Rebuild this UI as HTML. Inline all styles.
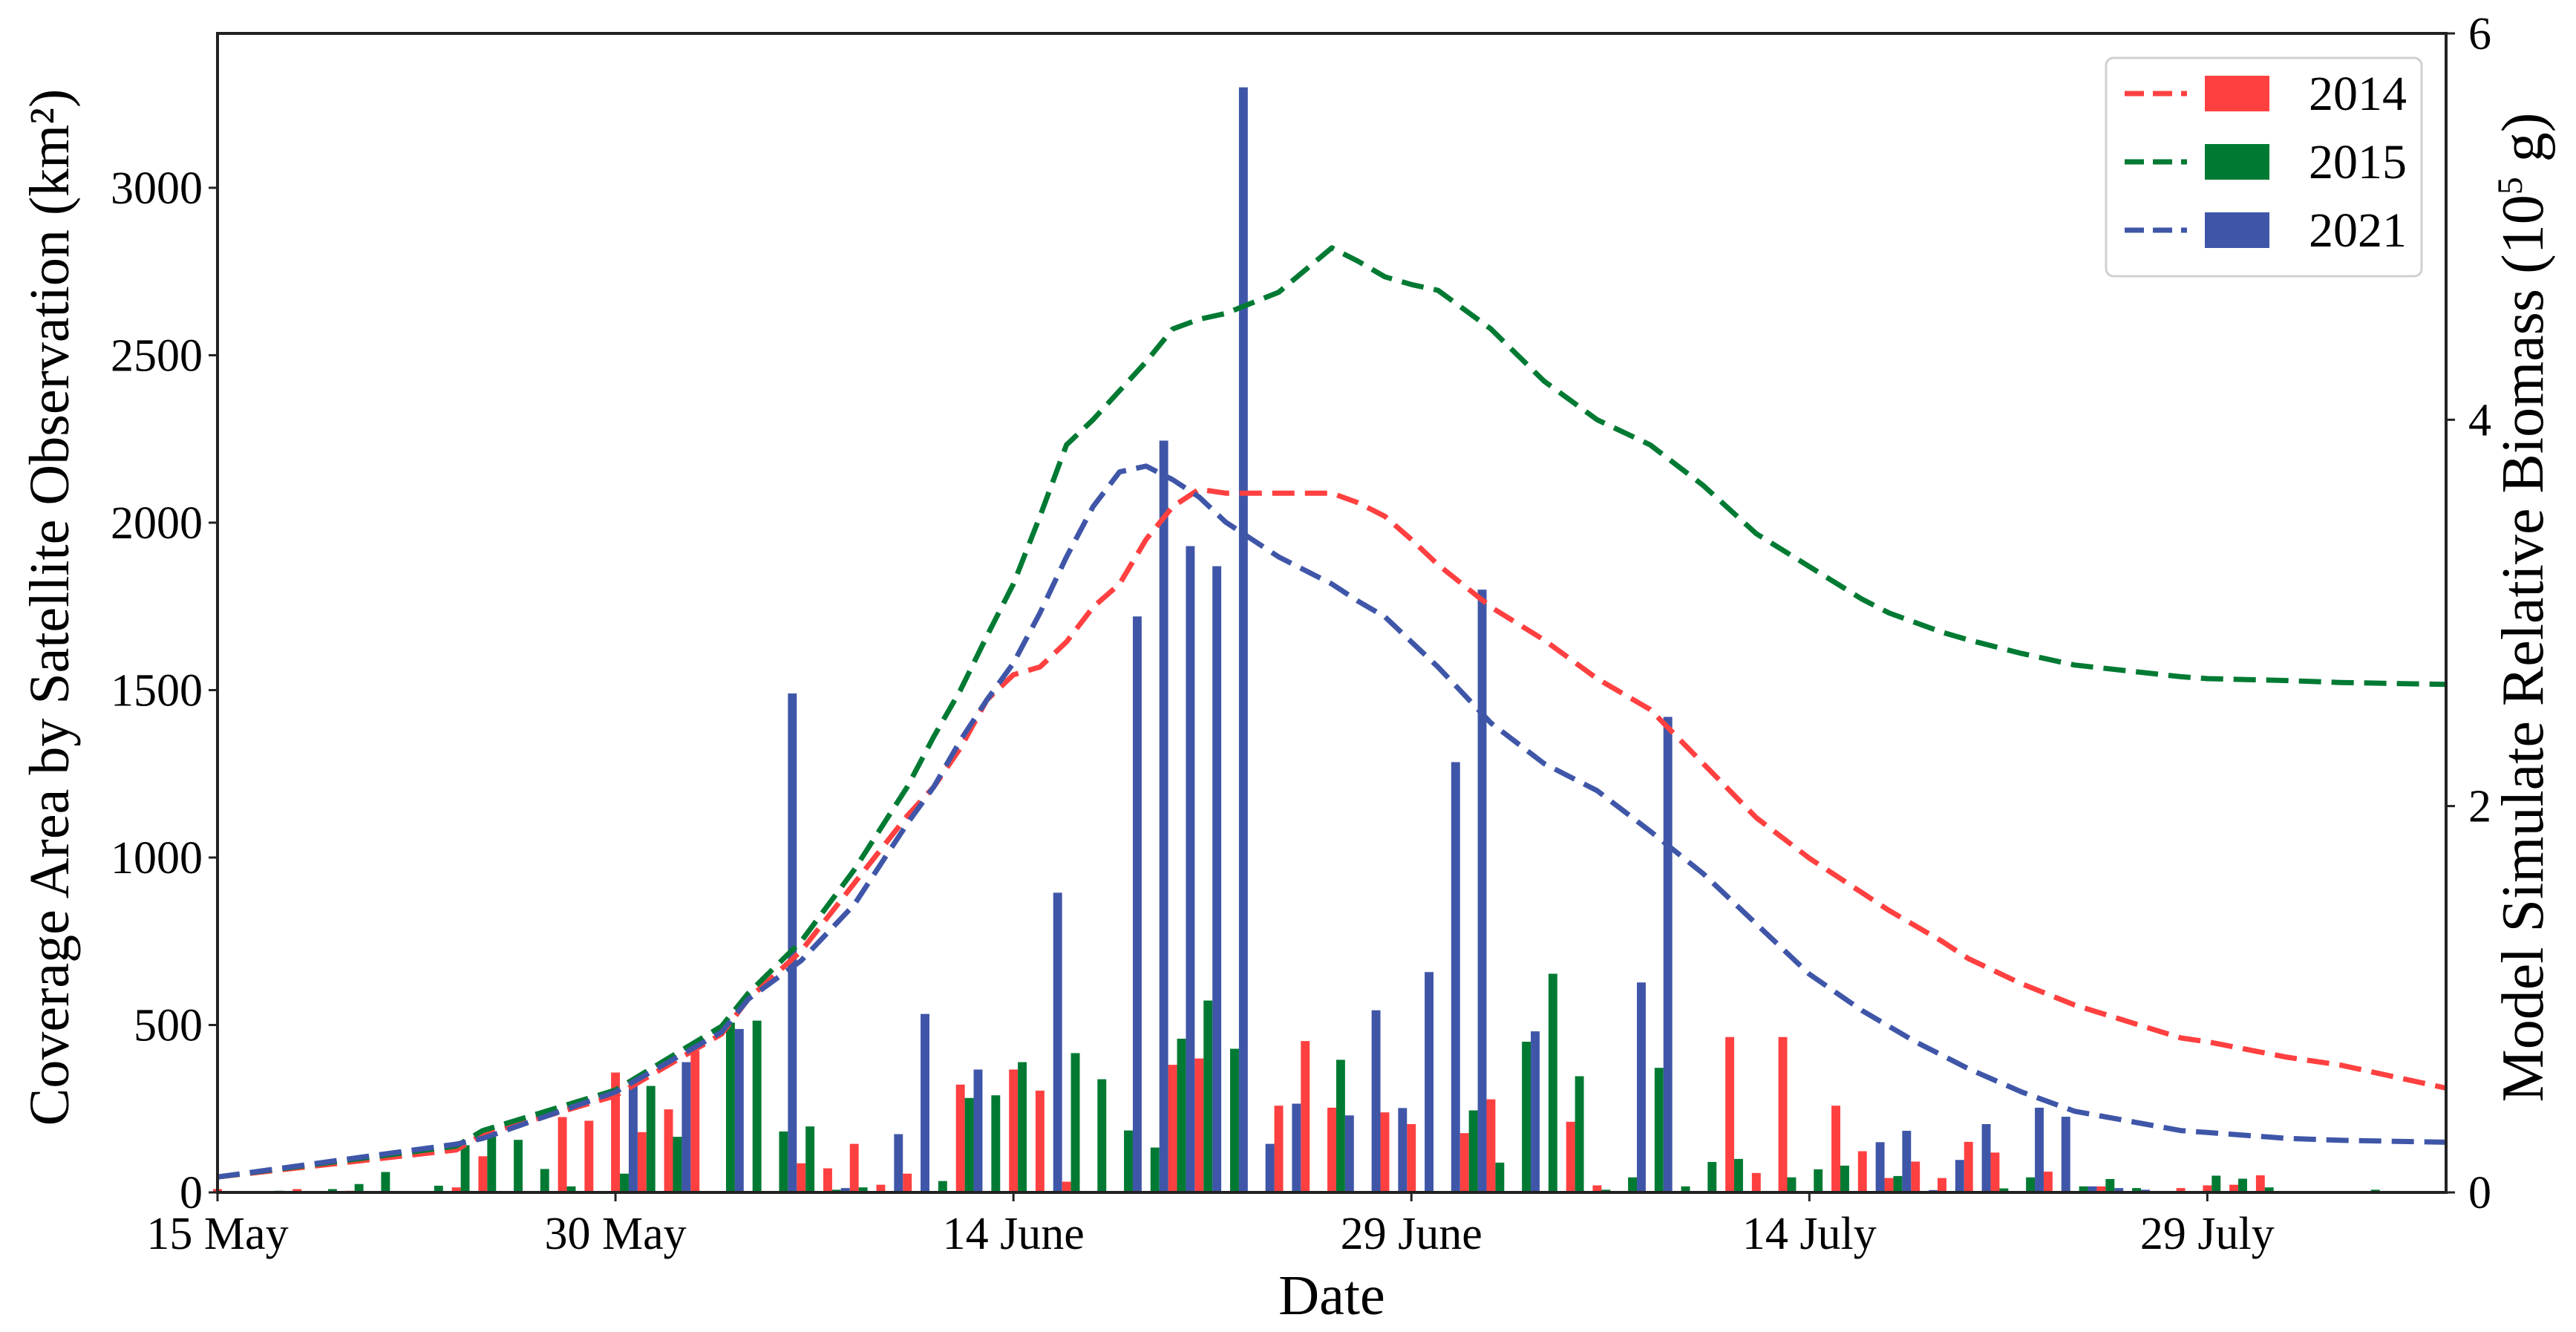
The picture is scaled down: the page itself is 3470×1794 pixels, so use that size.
<!DOCTYPE html>
<html><head><meta charset="utf-8"><style>
html,body{margin:0;padding:0;background:#fff}
svg text{font-family:"Liberation Serif",serif;fill:#000}
</style></head><body>
<svg id="chart" width="3470" height="1789" viewBox="0 0 3470 1789" xmlns="http://www.w3.org/2000/svg">
<g id="bars"></g>
<g id="lines"></g>
<g id="axes"></g>
<text x="1794" y="1770" font-size="76" text-anchor="middle">Date</text>
<text transform="translate(92,818) rotate(-90)" font-size="76" text-anchor="middle">Coverage Area by Satellite Observation (km²)</text>
<text transform="translate(3425,818) rotate(-90)" font-size="80" text-anchor="middle">Model Simulate Relative Biomass (10<tspan font-size="48" dy="-28">5</tspan><tspan dy="28"> g)</tspan></text>
<g>
<rect x="2837" y="78" width="425" height="294" rx="10" fill="#fff" stroke="#d0d0d0" stroke-width="3"/>
<g>
<line x1="2862" y1="126" x2="2946" y2="126" stroke="#ff4040" stroke-width="7" stroke-dasharray="26,12"/>
<rect x="2970" y="102" width="87" height="48" fill="#ff4040"/>
<text x="3110" y="148" font-size="66">2014</text></g>
<g>
<line x1="2862" y1="218" x2="2946" y2="218" stroke="#007a33" stroke-width="7" stroke-dasharray="26,12"/>
<rect x="2970" y="194" width="87" height="48" fill="#007a33"/>
<text x="3110" y="240" font-size="66">2015</text></g>
<g>
<line x1="2862" y1="310" x2="2946" y2="310" stroke="#3f56a8" stroke-width="7" stroke-dasharray="26,12"/>
<rect x="2970" y="286" width="87" height="48" fill="#3f56a8"/>
<text x="3110" y="332" font-size="66">2021</text></g>
</g>
</svg>
<script>
// ---- data ----
const days = Array.from({length: 85}, (_, i) => i);
const bars2014 = {0:10,3:10,5:5,8:3,9:15,10:108,13:225,14:214,15:358,16:180,17:248,18:423,22:87,23:72,24:145,25:23,26:56,28:322,30:367,31:304,32:32,36:381,37:400,40:259,41:452,42:253,44:239,45:204,47:177,48:278,51:211,52:21,57:464,58:58,59:464,61:259,62:123,63:43,64:92,65:43,66:151,67:119,68:2,69:62,71:18,74:13,75:21,76:23,77:51,81:3};
const bars2015 = {2:5,4:10,5:25,6:61,8:20,9:141,10:169,11:157,12:70,13:18,15:56,16:318,17:166,19:507,20:513,21:182,22:197,23:8,24:15,27:34,28:282,29:290,30:389,31:2,32:416,33:338,34:185,35:134,36:459,37:573,38:429,42:396,47:245,48:89,49:450,50:653,51:347,52:8,53:45,54:372,55:18,56:91,57:100,59:45,60:69,61:80,63:49,67:12,68:45,70:18,71:40,72:13,75:50,76:41,77:15,80:2,81:8};
const bars2021 = {15:326,17:389,19:488,21:1490,23:13,25:174,26:533,28:367,31:895,34:1720,35:2245,36:1930,37:1870,38:3300,39:145,40:265,42:230,43:544,44:252,45:658,46:1285,47:1800,49:481,53:627,54:1420,62:150,63:184,64:7,65:97,66:204,68:253,69:226,70:18,71:13,72:8};
const lineDays = [0,9,10,15,19,20,22,24,26,27,28,29,30,31,32,33,34,35,36,37,38,40,42,43,44,45,46,48,50,52,54,56,58,60,62,63,64,65,66,68,70,74,75,78,80,84];
const line2015 = [0.08,0.24,0.32,0.53,0.86,1.03,1.3,1.67,2.1,2.36,2.6,2.88,3.15,3.5,3.87,4.0,4.15,4.3,4.47,4.52,4.55,4.66,4.89,4.82,4.74,4.7,4.67,4.47,4.2,4.0,3.87,3.66,3.41,3.24,3.07,3.0,2.95,2.9,2.86,2.79,2.73,2.67,2.66,2.65,2.64,2.63];
const line2014 = [0.08,0.22,0.3,0.5,0.82,1.0,1.25,1.6,1.95,2.1,2.3,2.55,2.68,2.72,2.85,3.03,3.15,3.38,3.55,3.64,3.62,3.62,3.62,3.57,3.5,3.38,3.25,3.03,2.86,2.66,2.5,2.22,1.94,1.73,1.55,1.46,1.38,1.3,1.21,1.08,0.97,0.8,0.78,0.7,0.66,0.54];
const line2021 = [0.08,0.25,0.28,0.52,0.83,1.0,1.2,1.49,1.91,2.1,2.34,2.55,2.74,3.0,3.29,3.55,3.73,3.76,3.69,3.6,3.47,3.29,3.15,3.06,2.98,2.85,2.72,2.43,2.22,2.08,1.87,1.65,1.39,1.13,0.94,0.86,0.78,0.71,0.64,0.52,0.42,0.32,0.31,0.28,0.27,0.26];
const leftTicks = [0,500,1000,1500,2000,2500,3000];
const rightTicks = [0,2,4,6];
const xTickDays = [0,15,30,45,60,75];
const xTickLabels = ["15 May","30 May","14 June","29 June","14 July","29 July"];

// ---- scales ----
const X0=293, X1=3295, Y0=1606, Y1=45, DAYMAX=84;
const xs = d => X0 + d*(X1-X0)/DAYMAX;
const yL = v => Y0 - v*(Y0-Y1)/3461;
const yR = v => Y0 - v*(Y0-Y1)/6;
const NS="http://www.w3.org/2000/svg";
function mk(tag, attrs, parent){const e=document.createElementNS(NS,tag);for(const k in attrs)e.setAttribute(k,attrs[k]);parent.appendChild(e);return e;}
const dayW = (X1-X0)/DAYMAX, bw = dayW/3;
const series=[{d:bars2014,c:"#ff4040",n:"2014",o:0},{d:bars2015,c:"#007a33",n:"2015",o:1},{d:bars2021,c:"#3f56a8",n:"2021",o:2}];
const gb=document.getElementById('bars');
series.forEach(s=>{
  days.forEach(d=>{
    const v=s.d[d]||0; if(v<=0) return;
    const cx=xs(d)+s.o*bw;
    const r=mk('rect',{x:cx-bw/2,y:yL(v),width:bw,height:Y0-yL(v),fill:s.c},gb);
    
    
  });
});
const gl=document.getElementById('lines');
[[line2014,"#ff4040","2014"],[line2015,"#007a33","2015"],[line2021,"#3f56a8","2021"]].forEach(([arr,c,n])=>{
  const pts=lineDays.map((d,i)=>xs(d).toFixed(1)+","+yR(arr[i]).toFixed(1)).join(" ");
  const p=mk('polyline',{points:pts,fill:"none",stroke:c,"stroke-width":7,"stroke-dasharray":"30,14","stroke-linejoin":"round"},gl);
  
  
});
const ga=document.getElementById('axes');
const fr=mk('rect',{x:X0,y:Y1,width:X1-X0,height:Y0-Y1,fill:"none",stroke:"#222","stroke-width":4},ga);


leftTicks.forEach(v=>{
  mk('line',{x1:X0-12,x2:X0,y1:yL(v),y2:yL(v),stroke:"#222","stroke-width":3},ga);
  const t=mk('text',{x:X0-20,y:yL(v)+21,"font-size":62,"text-anchor":"end"},ga);
  t.textContent=v;
  
  
});
rightTicks.forEach(v=>{
  mk('line',{x1:X1,x2:X1+12,y1:yR(v),y2:yR(v),stroke:"#222","stroke-width":3},ga);
  const t=mk('text',{x:X1+30,y:yR(v)+21,"font-size":62,"text-anchor":"start"},ga);
  t.textContent=v;
  
  
});
xTickDays.forEach((d,i)=>{
  mk('line',{x1:xs(d),x2:xs(d),y1:Y0,y2:Y0+12,stroke:"#222","stroke-width":3},ga);
  const t=mk('text',{x:xs(d),y:Y0+76,"font-size":62,"text-anchor":"middle"},ga);
  t.textContent=xTickLabels[i];
  
  
});
</script>
</body></html>
